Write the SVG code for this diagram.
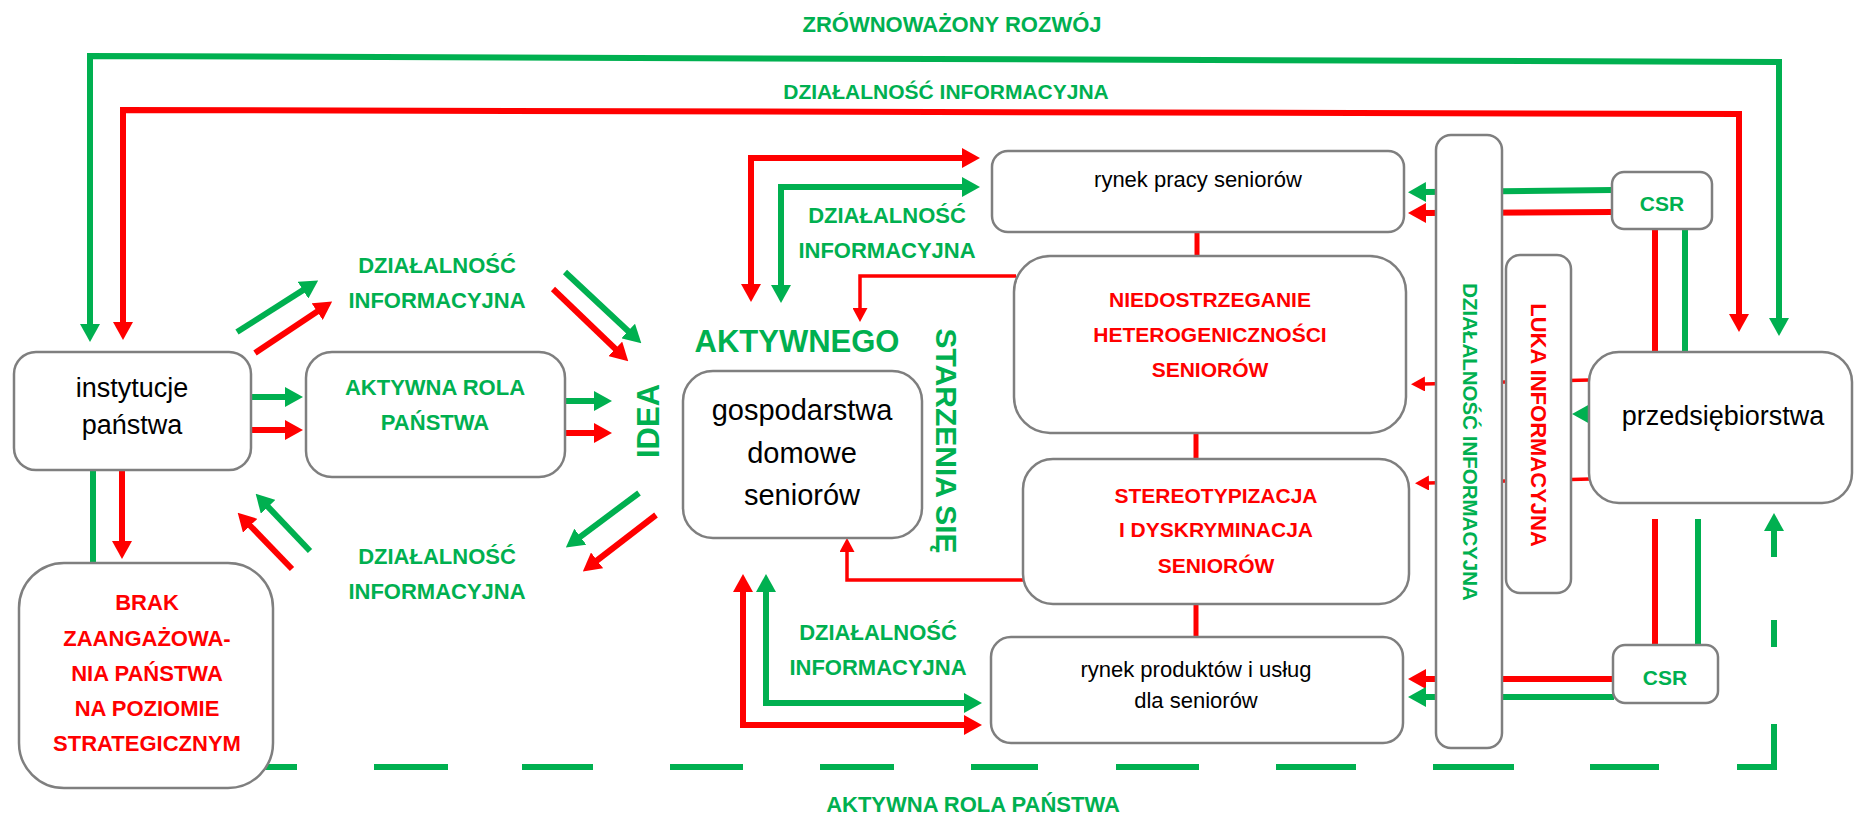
<svg xmlns="http://www.w3.org/2000/svg" width="1858" height="818" viewBox="0 0 1858 818">
  <style>
    .box { fill: #ffffff; stroke: #7f7f7f; stroke-width: 2.5; }
    .g { fill: none; stroke: #00b050; stroke-width: 6; }
    .r { fill: none; stroke: #ff0000; stroke-width: 6; }
    .rt { fill: none; stroke: #ff0000; stroke-width: 3.5; }
    .rc { fill: none; stroke: #ff0000; stroke-width: 5; }
    .gd { fill: none; stroke: #00b050; stroke-width: 6; }
    .hg { fill: #00b050; }
    .hr { fill: #ff0000; }
    text { font-family: "Liberation Sans", Arial, sans-serif; text-anchor: middle; }
    .lbl { font-weight: bold; font-size: 22px; fill: #00b050; }
    .red { font-weight: bold; font-size: 21px; fill: #ff0000; }
    .blk { font-size: 27px; fill: #000000; }
    .sm { font-size: 22px; fill: #000000; }
  </style>
  <defs>
    <marker id="ag" viewBox="0 0 18 20" markerWidth="18" markerHeight="20" refX="1" refY="10" orient="auto-start-reverse" markerUnits="userSpaceOnUse">
      <path d="M0,0 L18,10 L0,20 z" class="hg"/>
    </marker>
    <marker id="ar" viewBox="0 0 18 20" markerWidth="18" markerHeight="20" refX="1" refY="10" orient="auto-start-reverse" markerUnits="userSpaceOnUse">
      <path d="M0,0 L18,10 L0,20 z" class="hr"/>
    </marker>
    <marker id="art" viewBox="0 0 14 15" markerWidth="14" markerHeight="15" refX="1" refY="7.5" orient="auto-start-reverse" markerUnits="userSpaceOnUse">
      <path d="M0,0 L14,7.5 L0,15 z" class="hr"/>
    </marker>
  </defs>

  <!-- connectors -->
  <g id="connectors">
    <!-- long loops across the top, arrowheads at both ends -->
    <path class="g" d="M90,325 L90,56 L1779,62 L1779,319" marker-start="url(#ag)" marker-end="url(#ag)"/>
    <path class="r" d="M123,323 L123,110 L1739,114 L1739,315" marker-start="url(#ar)" marker-end="url(#ar)"/>

    <!-- instytucje państwa outputs -->
    <path class="g" d="M251,397 L286,397" marker-end="url(#ag)"/>
    <path class="r" d="M251,430 L286,430" marker-end="url(#ar)"/>
    <path class="g" d="M237,332 L303.8,289.6" marker-end="url(#ag)"/>
    <path class="r" d="M255,353 L318,311" marker-end="url(#ar)"/>
    <path class="g" d="M93,470 L93,564"/>
    <path class="r" d="M122,470 L122,542" marker-end="url(#ar)"/>
    <path class="g" d="M310,551 L267.4,506.1" marker-end="url(#ag)"/>
    <path class="r" d="M292,569 L249.5,525" marker-end="url(#ar)"/>

    <!-- towards the idea of active ageing -->
    <path class="g" d="M565,401 L595,401" marker-end="url(#ag)"/>
    <path class="r" d="M565,433 L595,433" marker-end="url(#ar)"/>
    <path class="g" d="M565,272 L628.9,331.7" marker-end="url(#ag)"/>
    <path class="r" d="M553,289 L616,349.5" marker-end="url(#ar)"/>
    <path class="g" d="M639,493 L579.5,537.3" marker-end="url(#ag)"/>
    <path class="r" d="M656,515 L596.3,561" marker-end="url(#ar)"/>

    <!-- households and the two markets, arrowheads at both ends -->
    <path class="r" d="M751,285 L751,158 L963,158" marker-start="url(#ar)" marker-end="url(#ar)"/>
    <path class="g" d="M781,286 L781,187 L963,187" marker-start="url(#ag)" marker-end="url(#ag)"/>
    <path class="r" d="M743,591 L743,725 L965,725" marker-start="url(#ar)" marker-end="url(#ar)"/>
    <path class="g" d="M766,591 L766,703 L965,703" marker-start="url(#ag)" marker-end="url(#ag)"/>
    <path class="rt" d="M1016,276 L860,276 L860,309" marker-end="url(#art)"/>
    <path class="rt" d="M1023,580 L847,580 L847,551" marker-end="url(#art)"/>

    <!-- links between the central column boxes -->
    <path class="rc" d="M1197,231 L1197,257"/>
    <path class="rc" d="M1196,432 L1196,460"/>
    <path class="rc" d="M1196,603 L1196,638"/>

    <!-- enterprises and CSR -->
    <path class="g" d="M1613,190 L1425,192" marker-end="url(#ag)"/>
    <path class="r" d="M1613,212 L1425,213" marker-end="url(#ar)"/>
    <path class="r" d="M1655,229 L1655,352"/>
    <path class="g" d="M1685,229 L1685,352"/>
    <path class="r" d="M1655,519 L1655,646"/>
    <path class="g" d="M1698,519 L1698,646"/>
    <path class="r" d="M1614,679 L1425,679" marker-end="url(#ar)"/>
    <path class="g" d="M1614,697 L1425,697" marker-end="url(#ag)"/>
    <path class="rt" d="M1590,380 L1424,384" marker-end="url(#art)"/>
    <path class="rt" d="M1590,479 L1428,483" marker-end="url(#art)"/>
    <polygon class="hg" points="1572,414 1590,404 1590,424"/>

    <!-- dashed return path along the bottom -->
    <g class="gd">
      <path d="M224,767 L297,767"/>
      <path d="M374,767 L448,767"/>
      <path d="M522,767 L593,767"/>
      <path d="M670,767 L743,767"/>
      <path d="M820,767 L894,767"/>
      <path d="M971,767 L1038,767"/>
      <path d="M1116,767 L1199,767"/>
      <path d="M1276,767 L1356,767"/>
      <path d="M1433,767 L1514,767"/>
      <path d="M1590,767 L1659,767"/>
      <path d="M1737,767 L1774,767 L1774,724"/>
      <path d="M1774,647 L1774,620"/>
      <path d="M1774,557 L1774,530"/>
    </g>
    <polygon class="hg" points="1774,513 1764,531 1784,531"/>
  </g>

  <!-- free-standing labels -->
  <g id="labels">
    <text class="lbl" x="952" y="32">ZRÓWNOWAŻONY ROZWÓJ</text>
    <text class="lbl" x="946" y="99" style="font-size:21px">DZIAŁALNOŚĆ INFORMACYJNA</text>
    <text class="lbl" x="973" y="812">AKTYWNA ROLA PAŃSTWA</text>
    <text class="lbl" x="437" y="273">DZIAŁALNOŚĆ</text>
    <text class="lbl" x="437" y="308">INFORMACYJNA</text>
    <text class="lbl" x="437" y="564">DZIAŁALNOŚĆ</text>
    <text class="lbl" x="437" y="599">INFORMACYJNA</text>
    <text class="lbl" x="887" y="223">DZIAŁALNOŚĆ</text>
    <text class="lbl" x="887" y="258">INFORMACYJNA</text>
    <text class="lbl" x="878" y="640">DZIAŁALNOŚĆ</text>
    <text class="lbl" x="878" y="675">INFORMACYJNA</text>
    <text class="lbl" x="797" y="352" style="font-size:31px">AKTYWNEGO</text>
    <text class="lbl" transform="translate(648,421) rotate(-90)" x="0" y="11" style="font-size:31px">IDEA</text>
    <text class="lbl" transform="translate(947,441) rotate(90)" x="0" y="11" style="font-size:30px">STARZENIA SIĘ</text>
  </g>

  <!-- nodes -->
  <g id="instytucje">
    <rect class="box" x="14" y="352" width="237" height="118" rx="22"/>
    <text class="blk" x="132" y="397">instytucje</text>
    <text class="blk" x="132" y="434">państwa</text>
  </g>
  <g id="aktywna-rola">
    <rect class="box" x="306" y="352" width="259" height="125" rx="26"/>
    <text class="lbl" x="435" y="395">AKTYWNA ROLA</text>
    <text class="lbl" x="435" y="430">PAŃSTWA</text>
  </g>
  <g id="brak">
    <rect class="box" x="19" y="563" width="254" height="225" rx="45"/>
    <text class="red" x="147" y="610" style="font-size:22px">BRAK</text>
    <text class="red" x="147" y="646" style="font-size:22px">ZAANGAŻOWA-</text>
    <text class="red" x="147" y="681" style="font-size:22px">NIA PAŃSTWA</text>
    <text class="red" x="147" y="716" style="font-size:22px">NA POZIOMIE</text>
    <text class="red" x="147" y="751" style="font-size:22px">STRATEGICZNYM</text>
  </g>
  <g id="gospodarstwa">
    <rect class="box" x="683" y="371" width="239" height="167" rx="30"/>
    <text class="blk" x="802" y="420" style="font-size:29px">gospodarstwa</text>
    <text class="blk" x="802" y="463" style="font-size:29px">domowe</text>
    <text class="blk" x="802" y="505" style="font-size:29px">seniorów</text>
  </g>
  <g id="rynek-pracy">
    <rect class="box" x="992" y="151" width="412" height="81" rx="16"/>
    <text class="sm" x="1198" y="187">rynek pracy seniorów</text>
  </g>
  <g id="niedostrzeganie">
    <rect class="box" x="1014" y="256" width="392" height="177" rx="36"/>
    <text class="red" x="1210" y="307">NIEDOSTRZEGANIE</text>
    <text class="red" x="1210" y="342">HETEROGENICZNOŚCI</text>
    <text class="red" x="1210" y="377">SENIORÓW</text>
  </g>
  <g id="stereotypizacja">
    <rect class="box" x="1023" y="459" width="386" height="145" rx="30"/>
    <text class="red" x="1216" y="503">STEREOTYPIZACJA</text>
    <text class="red" x="1216" y="537">I DYSKRYMINACJA</text>
    <text class="red" x="1216" y="573">SENIORÓW</text>
  </g>
  <g id="rynek-produktow">
    <rect class="box" x="991" y="637" width="412" height="106" rx="20"/>
    <text class="sm" x="1196" y="677">rynek produktów i usług</text>
    <text class="sm" x="1196" y="708">dla seniorów</text>
  </g>
  <g id="dzialalnosc-bar">
    <rect class="box" x="1436" y="135" width="66" height="613" rx="15"/>
    <text class="lbl" transform="translate(1470,442) rotate(90)" x="0" y="7.5" style="font-size:20.5px">DZIAŁALNOŚĆ INFORMACYJNA</text>
  </g>
  <g id="luka-bar">
    <rect class="box" x="1506" y="255" width="65" height="338" rx="14"/>
    <text class="red" transform="translate(1539,425) rotate(90)" x="0" y="8" style="font-size:22px">LUKA INFORMACYJNA</text>
  </g>
  <g id="csr-top">
    <rect class="box" x="1612" y="172" width="100" height="57" rx="12"/>
    <text class="lbl" x="1662" y="211" style="font-size:21px">CSR</text>
  </g>
  <g id="csr-bottom">
    <rect class="box" x="1613" y="645" width="105" height="58" rx="12"/>
    <text class="lbl" x="1665" y="685" style="font-size:21px">CSR</text>
  </g>
  <g id="przedsiebiorstwa">
    <rect class="box" x="1589" y="352" width="263" height="151" rx="30"/>
    <text class="blk" x="1723" y="425">przedsiębiorstwa</text>
  </g>
</svg>
